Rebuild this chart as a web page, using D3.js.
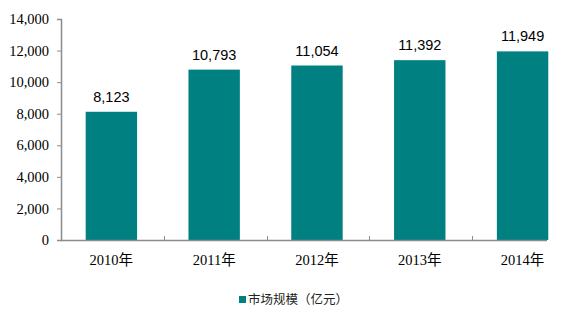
<!DOCTYPE html>
<html>
<head>
<meta charset="utf-8">
<script src="https://cdn.jsdelivr.net/npm/d3@7"></script>
<style>
  body { margin: 0; background: #fff; }
  svg { display: block; }
</style>
</head>
<body>
<svg></svg>
<script>
let years = ["2010年", "2011年", "2012年", "2013年", "2014年"],
values = [8123, 10793, 11054, 11392, 11949],
yTicks = [0, 2000, 4000, 6000, 8000, 10000, 12000, 14000],
seriesName = "市场规模（亿元）";

let width = 576,
height = 313,
plotLeft = 61,
plotRight = 575,
plotTop = 19,
plotBottom = 240,
axisEnd = 547,
barColor = "#008080",
axisColor = "#8c8c8c";

let svg = d3.select("svg")
  .attr("width", width)
  .attr("height", height);

let xScale = d3.scaleBand().domain(years).range([plotLeft, plotRight]).padding(0);
let yScale = d3.scaleLinear().domain([0, 14000]).range([plotBottom, plotTop]);
let fmt = d3.format(",");

// y axis
let yAxis = d3.axisLeft(yScale)
  .tickValues(yTicks)
  .tickSize(4)
  .tickPadding(8)
  .tickFormat(fmt);

let gy = svg.append("g")
  .attr("transform", `translate(${plotLeft},0)`)
  .call(yAxis);
gy.select(".domain").attr("stroke", axisColor).attr("stroke-width", 1.5);
gy.selectAll(".tick line").attr("stroke", axisColor);
gy.selectAll(".tick text")
  .attr("fill", "#000")
  .style("font-family", "'Liberation Serif', 'Times New Roman', serif")
  .style("font-size", "14.5px");

// bars
let step = xScale.step();
svg.append("g")
  .selectAll("rect")
  .data(values)
  .enter()
  .append("rect")
  .attr("x", (d, i) => xScale(years[i]) + step * 0.24)
  .attr("width", step * 0.5)
  .attr("y", d => yScale(d))
  .attr("height", d => yScale(0) - yScale(d))
  .style("fill", barColor);

// value labels
svg.append("g")
  .selectAll("text")
  .data(values)
  .enter()
  .append("text")
  .attr("x", (d, i) => xScale(years[i]) + step * 0.49)
  .attr("y", d => yScale(d) - 10)
  .attr("text-anchor", "middle")
  .style("font-family", "'Liberation Sans', Arial, sans-serif")
  .style("font-size", "14.5px")
  .attr("fill", "#000")
  .text(d => fmt(d));

// x axis (picture is cut at the right edge)
let gx = svg.append("g");
gx.append("line")
  .attr("x1", plotLeft).attr("x2", axisEnd)
  .attr("y1", plotBottom + 0.5).attr("y2", plotBottom + 0.5)
  .attr("stroke", axisColor).attr("stroke-width", 1.5);
gx.selectAll(".xtick")
  .data(years.slice(1))
  .enter()
  .append("line")
  .attr("class", "xtick")
  .attr("x1", d => Math.round(xScale(d)) + 0.5)
  .attr("x2", d => Math.round(xScale(d)) + 0.5)
  .attr("y1", plotBottom)
  .attr("y2", plotBottom - 4)
  .attr("stroke", axisColor);
gx.selectAll(".xlabel")
  .data(years)
  .enter()
  .append("text")
  .attr("class", "xlabel")
  .attr("x", d => xScale(d) + step * 0.49)
  .attr("y", 265)
  .attr("text-anchor", "middle")
  .style("font-family", "'Liberation Serif', 'Times New Roman', 'Noto Sans CJK SC', serif")
  .style("font-size", "14.5px")
  .attr("fill", "#000")
  .text(d => d);

// legend
let legend = svg.append("g").attr("transform", "translate(239,296)");
legend.append("rect")
  .attr("x", 0).attr("y", 0)
  .attr("width", 7).attr("height", 7)
  .style("fill", barColor);
legend.append("text")
  .attr("x", 9)
  .attr("y", 8)
  .style("font-family", "'Noto Sans CJK SC', sans-serif")
  .style("font-size", "12.5px")
  .attr("fill", "#222")
  .text(seriesName);
</script>
</body>
</html>
